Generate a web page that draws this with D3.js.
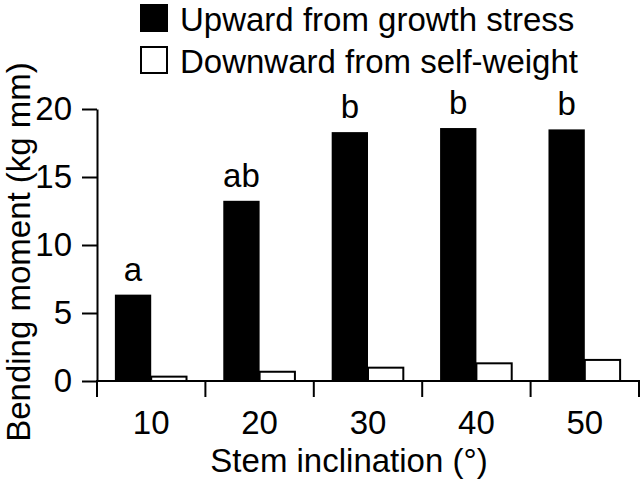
<!DOCTYPE html>
<html>
<head>
<meta charset="utf-8">
<script src="https://cdn.jsdelivr.net/npm/d3@7/dist/d3.min.js"></script>
<style>
  html, body { margin: 0; padding: 0; background: #fff; }
  svg text { font-family: "Liberation Sans", Arial, Helvetica, sans-serif; fill: #000; }
</style>
</head>
<body>
<svg id="chart" width="640" height="488"></svg>
<script>
const categories = ["10", "20", "30", "40", "50"];
const upward = [6.35, 13.25, 18.3, 18.6, 18.5];
const downward = [0.32, 0.68, 0.98, 1.3, 1.55];
const letters = ["a", "ab", "b", "b", "b"];
const seriesNames = ["Upward from growth stress", "Downward from self-weight"];
const yTicks = [0, 5, 10, 15, 20];

const svg = d3.select("#chart");
const FS = 33;

const x = d3.scaleBand().domain(categories).range([97, 639]).padding(0);
const y = d3.scaleLinear().domain([0, 20]).range([381, 109]);
const bw = x.bandwidth();
const xs = d3.scaleBand().domain(["up", "down"]).range([bw * 0.165, bw * 0.835]).padding(0);

const rows = categories.map((c, i) => ({ c, up: upward[i], down: downward[i], letter: letters[i] }));

// bars
const g = svg.append("g");
const grp = g.selectAll("g.cat").data(rows).enter().append("g")
  .attr("transform", d => `translate(${x(d.c)},0)`);

grp.append("rect")
  .attr("x", xs("up"))
  .attr("width", xs.bandwidth())
  .attr("y", d => y(d.up))
  .attr("height", d => y(0) - y(d.up))
  .attr("fill", "#000");

grp.append("rect")
  .attr("x", xs("down"))
  .attr("width", xs.bandwidth() - 1)
  .attr("y", d => y(d.down))
  .attr("height", d => y(0) - y(d.down))
  .attr("fill", "#fff")
  .attr("stroke", "#000")
  .attr("stroke-width", 2);

grp.append("text")
  .attr("x", xs("up") + xs.bandwidth() / 2)
  .attr("y", d => y(d.up) - 14)
  .attr("text-anchor", "middle")
  .attr("font-size", FS)
  .text(d => d.letter);

// y axis
const yAxis = d3.axisLeft(y).tickValues(yTicks).tickSize(15).tickPadding(10).tickSizeOuter(0);
const ya = svg.append("g").attr("transform", "translate(97,0)").call(yAxis);
ya.select(".domain").attr("stroke-width", 2).attr("stroke", "#000");
ya.selectAll(".tick line").attr("stroke-width", 2).attr("stroke", "#000");
ya.selectAll(".tick text").attr("font-size", FS).attr("fill", "#000")
  .attr("font-family", "Liberation Sans, Arial, sans-serif");

// x axis: ticks at band boundaries, labels centered on bands
const xa = svg.append("g").attr("transform", "translate(0,381)");
xa.append("line").attr("x1", 96).attr("x2", 640).attr("y1", 0).attr("y2", 0)
  .attr("stroke", "#000").attr("stroke-width", 2);
const bounds = categories.map(c => x(c)).concat([x(categories[categories.length - 1]) + bw]);
xa.selectAll("line.tk").data(bounds).enter().append("line")
  .attr("class", "tk")
  .attr("x1", d => d).attr("x2", d => d)
  .attr("y1", 0).attr("y2", 16)
  .attr("stroke", "#000").attr("stroke-width", 2);
xa.selectAll("text.lbl").data(categories).enter().append("text")
  .attr("class", "lbl")
  .attr("x", d => x(d) + bw / 2)
  .attr("y", 53)
  .attr("text-anchor", "middle")
  .attr("font-size", FS)
  .text(d => d);

// axis titles
svg.append("text")
  .attr("x", 349).attr("y", 472)
  .attr("text-anchor", "middle")
  .attr("font-size", FS)
  .text("Stem inclination (°)");

svg.append("text")
  .attr("transform", "translate(30,252) rotate(-90)")
  .attr("text-anchor", "middle")
  .attr("font-size", FS)
  .text("Bending moment (kg mm)");

// legend
const legend = svg.append("g");
const legendRows = seriesNames.map((n, i) => ({ n, fill: i === 0 ? "#000" : "#fff", i }));
const lg = legend.selectAll("g").data(legendRows).enter().append("g")
  .attr("transform", d => `translate(141,${5 + d.i * 42})`);
lg.append("rect").attr("x", 0).attr("y", 0).attr("width", 26).attr("height", 26)
  .attr("fill", d => d.fill).attr("stroke", "#000").attr("stroke-width", 2);
lg.append("text").attr("x", 39).attr("y", 26).attr("font-size", FS).text(d => d.n);
</script>
</body>
</html>
